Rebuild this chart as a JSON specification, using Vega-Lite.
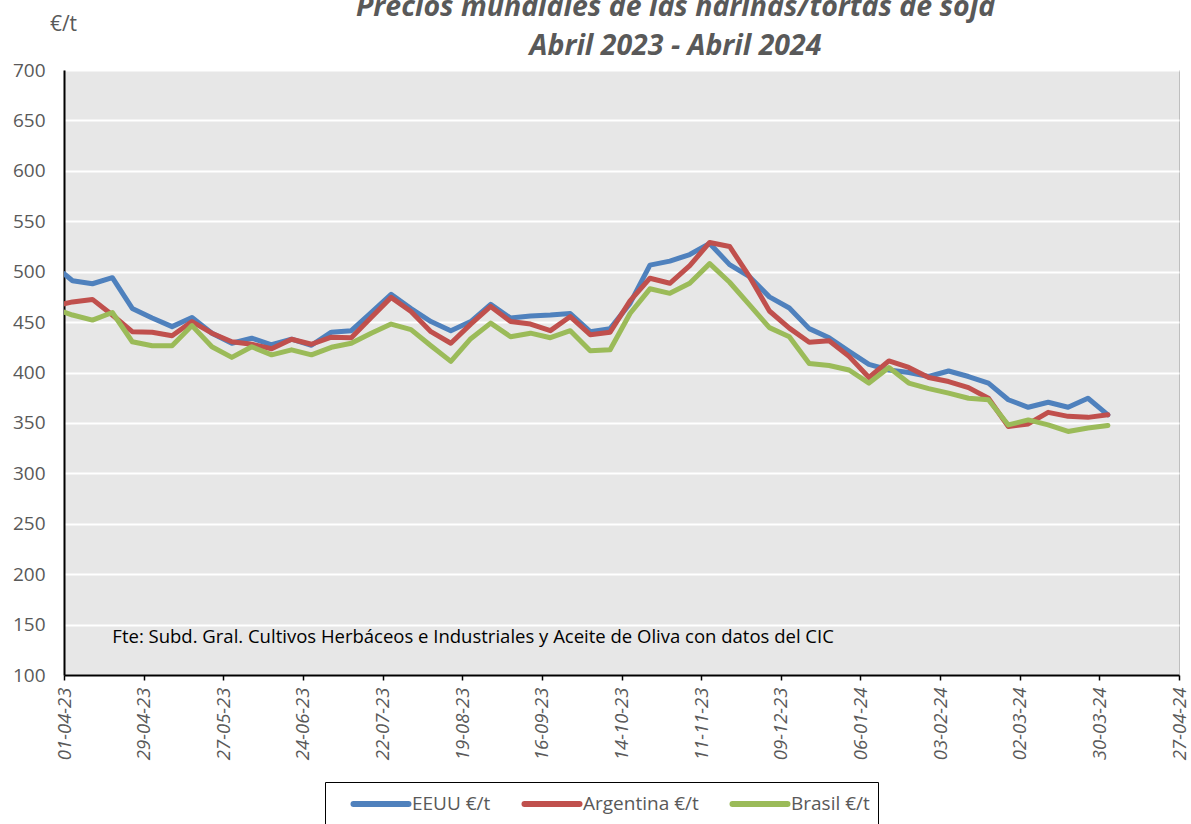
{
  "$schema": "https://vega.github.io/schema/vega-lite/v6.json",
  "width": 1115,
  "height": 605,
  "autosize": {"type": "none"},
  "padding": {"left": 64, "top": 70, "right": 12, "bottom": 149},
  "background": "white",
  "config": {
    "font": "Open Sans",
    "view": {"fill": "#e7e7e7", "stroke": "#bfbfbf", "strokeWidth": 1}
  },
  "title": {
    "text": ["Precios mundiales de las harinas/tortas de soja", "Abril 2023 - Abril 2024"],
    "font": "Open Sans",
    "fontSize": 28.5,
    "fontStyle": "italic",
    "fontWeight": "bold",
    "color": "#595959",
    "anchor": "middle",
    "frame": "group",
    "dx": 54,
    "offset": -70,
    "lineHeight": 39,
    "baseline": "alphabetic"
  },
  "data": {
    "values": [
      {"date": "2023-04-01", "EEUU": 498, "Argentina": 468, "Brasil": 460},
      {"date": "2023-04-04", "EEUU": 491, "Argentina": 470, "Brasil": 457},
      {"date": "2023-04-11", "EEUU": 488, "Argentina": 472.5, "Brasil": 452},
      {"date": "2023-04-18", "EEUU": 494, "Argentina": 457, "Brasil": 459.5},
      {"date": "2023-04-25", "EEUU": 463.5, "Argentina": 440.5, "Brasil": 430.5},
      {"date": "2023-05-02", "EEUU": 454, "Argentina": 440, "Brasil": 426.5},
      {"date": "2023-05-09", "EEUU": 445.5, "Argentina": 436.5, "Brasil": 426.5},
      {"date": "2023-05-16", "EEUU": 454.5, "Argentina": 450.5, "Brasil": 446.5},
      {"date": "2023-05-23", "EEUU": 439, "Argentina": 439, "Brasil": 425.5},
      {"date": "2023-05-30", "EEUU": 429, "Argentina": 430.5, "Brasil": 415},
      {"date": "2023-06-06", "EEUU": 434, "Argentina": 428, "Brasil": 425.5},
      {"date": "2023-06-13", "EEUU": 427.5, "Argentina": 423.5, "Brasil": 417.5},
      {"date": "2023-06-20", "EEUU": 433, "Argentina": 433, "Brasil": 422.5},
      {"date": "2023-06-27", "EEUU": 427, "Argentina": 428, "Brasil": 417.5},
      {"date": "2023-07-04", "EEUU": 440, "Argentina": 435, "Brasil": 425},
      {"date": "2023-07-11", "EEUU": 441.5, "Argentina": 434.5, "Brasil": 429},
      {"date": "2023-07-18", "EEUU": 459.5, "Argentina": 454.5, "Brasil": 439},
      {"date": "2023-07-25", "EEUU": 477.5, "Argentina": 474.5, "Brasil": 448},
      {"date": "2023-08-01", "EEUU": 463.5, "Argentina": 460.5, "Brasil": 442.5},
      {"date": "2023-08-08", "EEUU": 450.5, "Argentina": 440.5, "Brasil": 426.5},
      {"date": "2023-08-15", "EEUU": 441.5, "Argentina": 429, "Brasil": 411},
      {"date": "2023-08-22", "EEUU": 450.5, "Argentina": 448, "Brasil": 433.5},
      {"date": "2023-08-29", "EEUU": 467.5, "Argentina": 465.5, "Brasil": 449},
      {"date": "2023-09-05", "EEUU": 454, "Argentina": 450.5, "Brasil": 435.5},
      {"date": "2023-09-12", "EEUU": 456, "Argentina": 448, "Brasil": 439},
      {"date": "2023-09-19", "EEUU": 457, "Argentina": 441.5, "Brasil": 434.5},
      {"date": "2023-09-26", "EEUU": 458.5, "Argentina": 455.5, "Brasil": 441.5},
      {"date": "2023-10-03", "EEUU": 440.5, "Argentina": 437.5, "Brasil": 421.5},
      {"date": "2023-10-10", "EEUU": 443.5, "Argentina": 440, "Brasil": 422.5},
      {"date": "2023-10-17", "EEUU": 468.5, "Argentina": 471, "Brasil": 458.5},
      {"date": "2023-10-24", "EEUU": 506.5, "Argentina": 493.5, "Brasil": 483},
      {"date": "2023-10-31", "EEUU": 510.5, "Argentina": 488.5, "Brasil": 478.5},
      {"date": "2023-11-07", "EEUU": 517, "Argentina": 506, "Brasil": 488.5},
      {"date": "2023-11-14", "EEUU": 528, "Argentina": 529, "Brasil": 508},
      {"date": "2023-11-21", "EEUU": 507, "Argentina": 525, "Brasil": 489.5},
      {"date": "2023-11-28", "EEUU": 495, "Argentina": 495, "Brasil": 467},
      {"date": "2023-12-05", "EEUU": 475, "Argentina": 461, "Brasil": 444.5},
      {"date": "2023-12-12", "EEUU": 464, "Argentina": 444, "Brasil": 435.5},
      {"date": "2023-12-19", "EEUU": 443.5, "Argentina": 430, "Brasil": 409},
      {"date": "2023-12-26", "EEUU": 434.5, "Argentina": 431.5, "Brasil": 407},
      {"date": "2024-01-02", "EEUU": 421, "Argentina": 416, "Brasil": 402.5},
      {"date": "2024-01-09", "EEUU": 408, "Argentina": 395, "Brasil": 389.5},
      {"date": "2024-01-16", "EEUU": 402.5, "Argentina": 411.5, "Brasil": 405},
      {"date": "2024-01-23", "EEUU": 400, "Argentina": 405, "Brasil": 389.5},
      {"date": "2024-01-30", "EEUU": 396, "Argentina": 395, "Brasil": 384},
      {"date": "2024-02-06", "EEUU": 401.5, "Argentina": 391, "Brasil": 379.5},
      {"date": "2024-02-13", "EEUU": 396, "Argentina": 385, "Brasil": 374.5},
      {"date": "2024-02-20", "EEUU": 389.5, "Argentina": 374.5, "Brasil": 373},
      {"date": "2024-02-27", "EEUU": 373, "Argentina": 346.5, "Brasil": 348},
      {"date": "2024-03-05", "EEUU": 365.5, "Argentina": 349, "Brasil": 353},
      {"date": "2024-03-12", "EEUU": 370.5, "Argentina": 360.5, "Brasil": 348},
      {"date": "2024-03-19", "EEUU": 365.5, "Argentina": 356.5, "Brasil": 341.5},
      {"date": "2024-03-26", "EEUU": 374.5, "Argentina": 355.5, "Brasil": 345},
      {"date": "2024-04-02", "EEUU": 358, "Argentina": 358, "Brasil": 347.5}
    ]
  },
  "layer": [
    {
      "transform": [{"fold": ["EEUU", "Argentina", "Brasil"], "as": ["serie", "precio"]}],
      "mark": {"type": "line", "strokeWidth": 5, "strokeCap": "round", "strokeJoin": "round", "clip": true},
      "encoding": {
        "x": {
          "field": "date",
          "type": "temporal",
          "scale": {
            "type": "utc",
            "nice": false,
            "domain": [
              {"year": 2023, "month": 4, "date": 1, "utc": true},
              {"year": 2024, "month": 4, "date": 27, "utc": true}
            ]
          },
          "axis": {
            "title": null,
            "grid": false,
            "format": "%d-%m-%y",
            "labelAngle": -90,
            "labelAlign": "right",
            "labelBaseline": "middle",
            "labelFont": "Open Sans",
            "labelFontSize": 18.5,
            "labelFontStyle": "italic",
            "labelColor": "#595959",
            "labelPadding": 7,
            "labelOverlap": false,
            "labelFlush": false,
            "domainColor": "#000000",
            "domainWidth": 2,
            "tickColor": "#000000",
            "tickWidth": 1.5,
            "tickSize": 5,
            "values": [
              {"year": 2023, "month": 4, "date": 1, "utc": true},
              {"year": 2023, "month": 4, "date": 15, "utc": true},
              {"year": 2023, "month": 4, "date": 29, "utc": true},
              {"year": 2023, "month": 5, "date": 13, "utc": true},
              {"year": 2023, "month": 5, "date": 27, "utc": true},
              {"year": 2023, "month": 6, "date": 10, "utc": true},
              {"year": 2023, "month": 6, "date": 24, "utc": true},
              {"year": 2023, "month": 7, "date": 8, "utc": true},
              {"year": 2023, "month": 7, "date": 22, "utc": true},
              {"year": 2023, "month": 8, "date": 5, "utc": true},
              {"year": 2023, "month": 8, "date": 19, "utc": true},
              {"year": 2023, "month": 9, "date": 2, "utc": true},
              {"year": 2023, "month": 9, "date": 16, "utc": true},
              {"year": 2023, "month": 9, "date": 30, "utc": true},
              {"year": 2023, "month": 10, "date": 14, "utc": true},
              {"year": 2023, "month": 10, "date": 28, "utc": true},
              {"year": 2023, "month": 11, "date": 11, "utc": true},
              {"year": 2023, "month": 11, "date": 25, "utc": true},
              {"year": 2023, "month": 12, "date": 9, "utc": true},
              {"year": 2023, "month": 12, "date": 23, "utc": true},
              {"year": 2024, "month": 1, "date": 6, "utc": true},
              {"year": 2024, "month": 1, "date": 20, "utc": true},
              {"year": 2024, "month": 2, "date": 3, "utc": true},
              {"year": 2024, "month": 2, "date": 17, "utc": true},
              {"year": 2024, "month": 3, "date": 2, "utc": true},
              {"year": 2024, "month": 3, "date": 16, "utc": true},
              {"year": 2024, "month": 3, "date": 30, "utc": true},
              {"year": 2024, "month": 4, "date": 13, "utc": true},
              {"year": 2024, "month": 4, "date": 27, "utc": true}
            ]
          }
        },
        "y": {
          "field": "precio",
          "type": "quantitative",
          "scale": {"domain": [100, 700], "nice": false, "zero": false},
          "axis": {
            "title": "€/t",
            "titleAngle": 0,
            "titleX": -1,
            "titleY": -40,
            "titleAlign": "center",
            "titleBaseline": "alphabetic",
            "titleFont": "Open Sans",
            "titleFontSize": 21,
            "titleFontWeight": "normal",
            "titleColor": "#595959",
            "values": [100, 150, 200, 250, 300, 350, 400, 450, 500, 550, 600, 650, 700],
            "ticks": false,
            "labelFont": "Open Sans",
            "labelFontSize": 19,
            "labelColor": "#595959",
            "labelPadding": 19,
            "labelFlush": false,
            "domainColor": "#000000",
            "domainWidth": 2,
            "grid": true,
            "gridColor": "#ffffff",
            "gridWidth": 2
          }
        },
        "color": {
          "field": "serie",
          "type": "nominal",
          "scale": {"domain": ["EEUU", "Argentina", "Brasil"], "range": ["#4f81bd", "#c0504d", "#9bbb59"]},
          "legend": {
            "title": null,
            "orient": "none",
            "direction": "horizontal",
            "legendX": 261,
            "legendY": 712,
            "padding": 8,
            "strokeColor": "#000000",
            "fillColor": "#ffffff",
            "symbolType": "M-2.5,0H2.5",
            "symbolSize": 484,
            "symbolStrokeWidth": 6,
            "symbolOffset": 34,
            "labelFont": "Open Sans",
            "labelFontSize": 19,
            "labelColor": "#595959",
            "labelOffset": 17,
            "columnPadding": 13,
            "labelExpr": "datum.label + ' €/t'",
            "encode": {"symbols": {"update": {"strokeCap": {"value": "round"}, "fill": {"value": "transparent"}}}}
          }
        }
      }
    },
    {
      "data": {"values": [{"fecha": "2023-04-18", "nivel": 137.5, "fuente": "Fte: Subd. Gral. Cultivos Herbáceos e Industriales y Aceite de Oliva con datos del CIC"}]},
      "mark": {"type": "text", "align": "left", "baseline": "middle", "font": "Open Sans", "fontSize": 18.5, "color": "#000000"},
      "encoding": {
        "x": {"field": "fecha", "type": "temporal"},
        "y": {"field": "nivel", "type": "quantitative"},
        "text": {"field": "fuente"}
      }
    }
  ]
}
